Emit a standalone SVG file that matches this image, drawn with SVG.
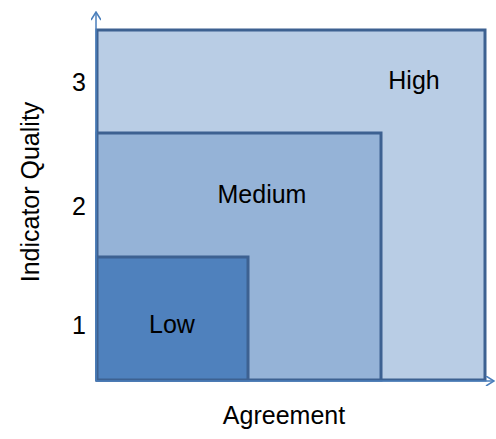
<svg xmlns="http://www.w3.org/2000/svg" width="496" height="439" viewBox="0 0 496 439">
<style>
.box{stroke:#3D6191;stroke-width:3}
.t{font-family:"Liberation Sans",Arial,sans-serif;font-size:25px;fill:#000}
.ax{stroke:#4A7EBB;stroke-width:1.5;fill:none}
</style>
<defs>
<marker id="arr" viewBox="0 0 10 10" refX="9" refY="5" markerWidth="10" markerHeight="10" markerUnits="userSpaceOnUse" orient="auto">
<path d="M1,0 L9,5 L1,10" fill="none" stroke="#4A7EBB" stroke-width="1.5"/>
</marker>
</defs>
<rect width="496" height="439" fill="#fff"/>
<g id="high"><rect class="box" x="97" y="30" width="388" height="350" fill="#B9CDE5"/><text class="t" x="414" y="89" text-anchor="middle">High</text></g>
<g id="medium"><rect class="box" x="97" y="133" width="284" height="247" fill="#95B3D7"/><text class="t" x="262" y="203" text-anchor="middle">Medium</text></g>
<g id="low"><rect class="box" x="97" y="257" width="151" height="123" fill="#4F81BD"/><text class="t" x="172" y="333" text-anchor="middle">Low</text></g>
<g id="connectors">
<line class="ax" x1="96" y1="381" x2="96" y2="12" marker-end="url(#arr)"/>
<line class="ax" x1="96" y1="381" x2="494" y2="381" marker-end="url(#arr)"/>
</g>
<g id="labels">
<text class="t" x="79" y="91" text-anchor="middle">3</text>
<text class="t" x="79" y="215" text-anchor="middle">2</text>
<text class="t" x="79" y="334" text-anchor="middle">1</text>
<text class="t" x="284" y="424" text-anchor="middle">Agreement</text>
<text class="t" transform="translate(39,192) rotate(-90)" text-anchor="middle">Indicator Quality</text>
</g>
</svg>
